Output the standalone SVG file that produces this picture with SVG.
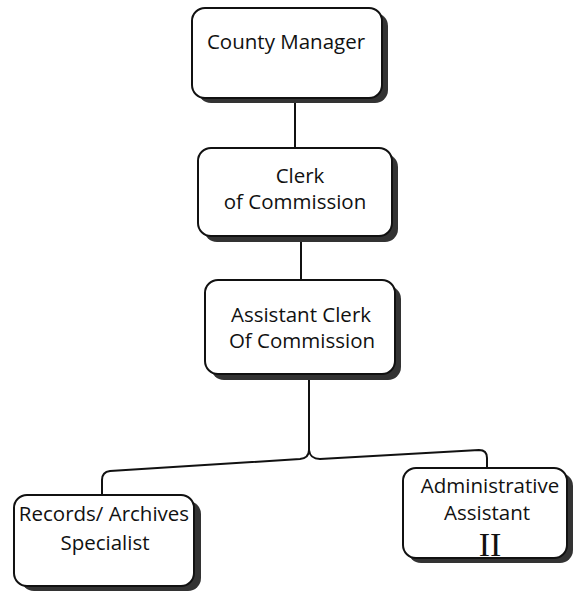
<svg xmlns="http://www.w3.org/2000/svg" width="573" height="594" viewBox="0 0 573 594">
<style>
.box{fill:#fff;stroke:#111;stroke-width:2}
.sh{fill:#333}
.t{font-family:"Open Sans","Liberation Sans",sans-serif;font-size:20.5px;fill:#111;text-anchor:middle}
.c{fill:none;stroke:#111;stroke-width:2}
</style>
<rect width="573" height="594" fill="#fff"/>
<g id="connectors">
<path class="c" d="M295 103 V148"/>
<path class="c" d="M301 242 V280"/>
<path class="c" d="M309 380 V450 Q309 458 300 459 L110 471 Q102 472 102 480 V495"/>
<path class="c" d="M309 450 Q310 459 320 459 L479 450 Q487 450 487 458 V468"/>
</g>
<g id="county-manager">
<rect class="sh" x="198" y="13" width="190" height="90" rx="13"/>
<rect class="box" x="192" y="8" width="190" height="90" rx="13"/>
<text class="t" x="286" y="49">County Manager</text>
</g>
<g id="clerk">
<rect class="sh" x="204" y="154" width="194" height="88" rx="13"/>
<rect class="box" x="198" y="148" width="194" height="88" rx="13"/>
<text class="t" x="300" y="183">Clerk</text>
<text class="t" x="295" y="209">of Commission</text>
</g>
<g id="assistant-clerk">
<rect class="sh" x="211" y="286" width="190" height="94" rx="13"/>
<rect class="box" x="205" y="280" width="190" height="94" rx="13"/>
<text class="t" x="301" y="322">Assistant Clerk</text>
<text class="t" x="302" y="348">Of Commission</text>
</g>
<g id="records">
<rect class="sh" x="21" y="501" width="180" height="90" rx="13"/>
<rect class="box" x="14" y="495" width="180" height="91" rx="13"/>
<text class="t" x="104" y="521">Records/ Archives</text>
<text class="t" x="105" y="550">Specialist</text>
</g>
<g id="admin-assistant">
<rect class="sh" x="408" y="473" width="165" height="90" rx="13"/>
<rect class="box" x="403" y="468" width="164" height="90" rx="13"/>
<text class="t" x="490" y="493">Administrative</text>
<text class="t" x="487" y="520">Assistant</text>
<text x="490" y="556" style="font-family:'Liberation Serif',serif;font-size:34px;fill:#111;text-anchor:middle">II</text>
</g>
</svg>
